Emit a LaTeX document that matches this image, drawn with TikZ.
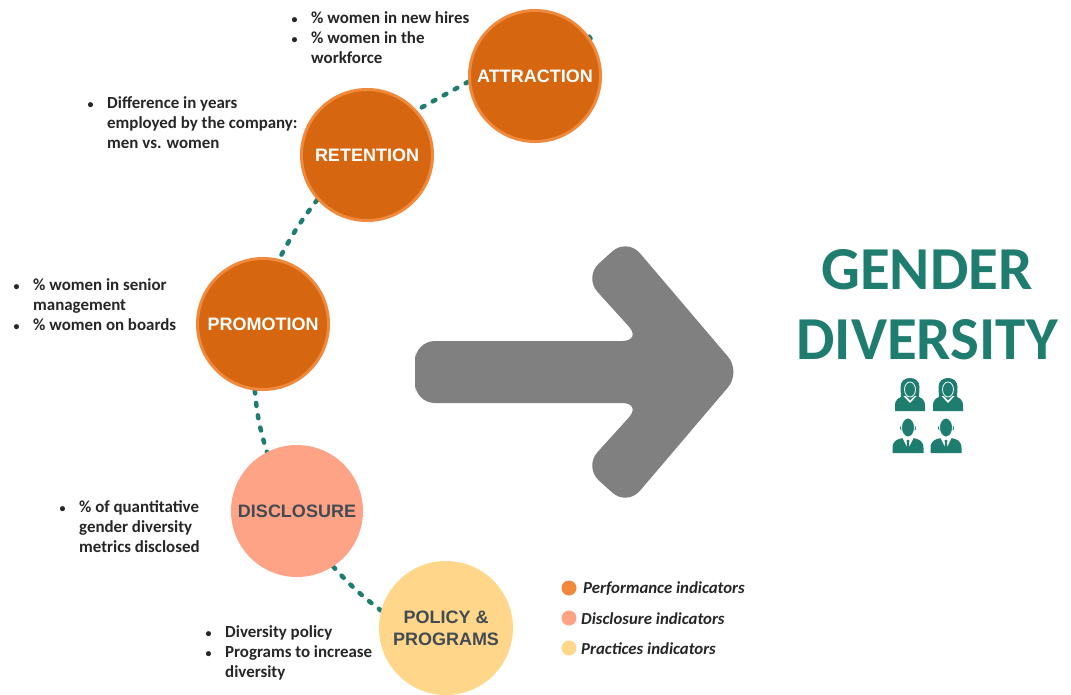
\documentclass[tikz,border=0pt]{standalone}
\usepackage{fontspec}
\setmainfont{Carlito}
\newfontfamily\arialfont{Liberation Sans}
\usetikzlibrary{backgrounds}
\definecolor{orfill}{HTML}{D6660F}
\definecolor{orline}{HTML}{F0893C}
\definecolor{discfill}{HTML}{FFA387}
\definecolor{polfill}{HTML}{FFD68A}
\definecolor{tealc}{HTML}{1F7D70}
\definecolor{arrgray}{HTML}{808080}
\definecolor{txtc}{HTML}{262626}
\definecolor{lbldark}{HTML}{434B52}
\newcommand{\mybul}{\makebox[20pt][l]{\hspace*{0.5pt}{\fontsize{12}{12}\selectfont\textbullet}}}
\newcommand{\myind}{\hspace*{20pt}}
\begin{document}
\begin{tikzpicture}[x=1pt,y=-1pt,
  perfcirc/.style={circle, fill=orfill, draw=orline, line width=3pt, minimum size=131pt, inner sep=0pt,
     text=white, font=\arialfont\bfseries\fontsize{18}{22}\selectfont, align=center},
  disccirc/.style={circle, fill=discfill, minimum size=132pt, inner sep=0pt,
     text=lbldark, font=\arialfont\bfseries\fontsize{18}{22}\selectfont, align=center},
  polcirc/.style={circle, fill=polfill, minimum size=134pt, inner sep=0pt,
     text=lbldark, font=\arialfont\bfseries\fontsize{18}{22}\selectfont, align=center},
  dotline/.style={draw=tealc, line width=4.5pt, line cap=round, dash pattern=on 3pt off 9.5pt},
  bullets/.style={anchor=north west, inner sep=0pt, align=left, text=txtc,
     font=\fontsize{16.9}{20}\selectfont\bfseries},
  legtext/.style={anchor=west, inner sep=0pt, text=txtc, font=\fontsize{16.8}{20}\selectfont\bfseries\itshape},
  legdot/.style={circle, minimum size=15pt, inner sep=0pt},
  woman/.pic={
    \fill[tealc] (-15,33) -- (-15,28) .. controls (-15,21) and (-11,19) .. (-5,18) -- (5,18) .. controls (11,19) and (15,21) .. (15,28) -- (15,33) -- cycle;
    \fill[tealc] (-9,20) -- (-9.5,9) .. controls (-9.5,3) and (-5,0) .. (0,0) .. controls (5,0) and (9.5,3) .. (9.5,9) -- (9,20) .. controls (5,21) .. (0,21) .. controls (-5,21) .. (-9,20) -- cycle;
    \draw[white, line width=0.8pt, fill=tealc] (0,11.5) ellipse (5.5 and 7.5);
    \fill[white] (-6.5,18) -- (0,25) -- (6.5,18) -- (4.5,18) -- (0,22.5) -- (-4.5,18) -- cycle;
  },
  man/.pic={
    \fill[tealc] (-15.5,35) -- (-15.5,30) .. controls (-15.5,23) and (-11,21) .. (-5,20) -- (5,20) .. controls (11,21) and (15.5,23) .. (15.5,30) -- (15.5,35) -- cycle;
    \fill[white] (-5.5,20) -- (0,31) -- (5.5,20) -- cycle;
    \fill[tealc] (0,21.5) -- (-1.6,23) -- (-0.8,24.5) -- (-1.8,31) -- (0,33) -- (1.8,31) -- (0.8,24.5) -- (1.6,23) -- cycle;
    \fill[tealc] (-6.5,10) ellipse (1.5 and 2.4);
    \fill[tealc] (6.5,10) ellipse (1.5 and 2.4);
    \draw[white, line width=0.8pt, fill=tealc] (0,9.5) ellipse (6.5 and 9.5);
  }
]
\useasboundingbox (0,0) rectangle (1071,694);

% circles
\node[perfcirc] (att) at (535,76) {ATTRACTION};
\node[perfcirc] (ret) at (367,155) {RETENTION};
\node[perfcirc] (prom) at (263,324) {PROMOTION};
\node[disccirc] (disc) at (297,511) {DISCLOSURE};
\node[polcirc] (pol) at (446,628) {POLICY \&\\PROGRAMS};

% background and dotted connectors
\begin{pgfonlayer}{background}
\fill[white] (0,0) rectangle (1071,694);
\draw[dotline] (att.185) -- (ret.42);
\draw[dotline] (ret.222) to[bend right=5] (prom.76);
\draw[dotline] (prom.263) to[bend right=6] (disc.117);
\draw[dotline] (disc.303) to[bend right=5] (pol.165);
\draw[dotline] (att.36) -- (att.34);
\end{pgfonlayer}

% bullet texts
\node[bullets] (tatt) at (291,8) {\rule{0pt}{15pt}\mybul\% women in new hires\\\mybul\% women in the\\\myind workforce};
\node[bullets] (tret) at (87,93) {\rule{0pt}{15pt}\mybul Difference in years\\\myind employed by the company:\\\myind men vs. women};
\node[bullets] (tprom) at (13,275) {\rule{0pt}{15pt}\mybul\% women in senior\\\myind management\\\mybul\% women on boards};
\node[bullets] (tdisc) at (59,497) {\rule{0pt}{15pt}\mybul\% of quantitative\\\myind gender diversity\\\myind metrics disclosed};
\node[bullets] (tpol) at (205,622) {\rule{0pt}{15pt}\mybul Diversity policy\\\mybul Programs to increase\\\myind diversity};

% big arrow
\fill[arrgray, rounded corners=20pt] (415,372) -- (415,341) -- (642,341) -- (584,277) -- (627,238) -- (741,372) -- (627,506) -- (584,467) -- (642,403) -- (415,403) -- cycle;

% title
\node[inner sep=0pt, align=center, text=tealc, font=\fontsize{61}{70}\selectfont\bfseries] (gd) at (927,305) {GENDER\\DIVERSITY};

% people icons
\pic at (910,378) {woman};
\pic at (948,378) {woman};
\pic at (908,418) {man};
\pic at (946,418) {man};

% legend
\node[legdot, fill=orline] (l1) at (569,588) {};
\node[legdot, fill=discfill] (l2) at (569,618) {};
\node[legdot, fill=polfill] (l3) at (569,648) {};
\node[legtext] (lt1) at (583,589) {Performance indicators};
\node[legtext] (lt2) at (581,619) {Disclosure indicators};
\node[legtext] (lt3) at (581,649) {Practices indicators};
\end{tikzpicture}
\end{document}
